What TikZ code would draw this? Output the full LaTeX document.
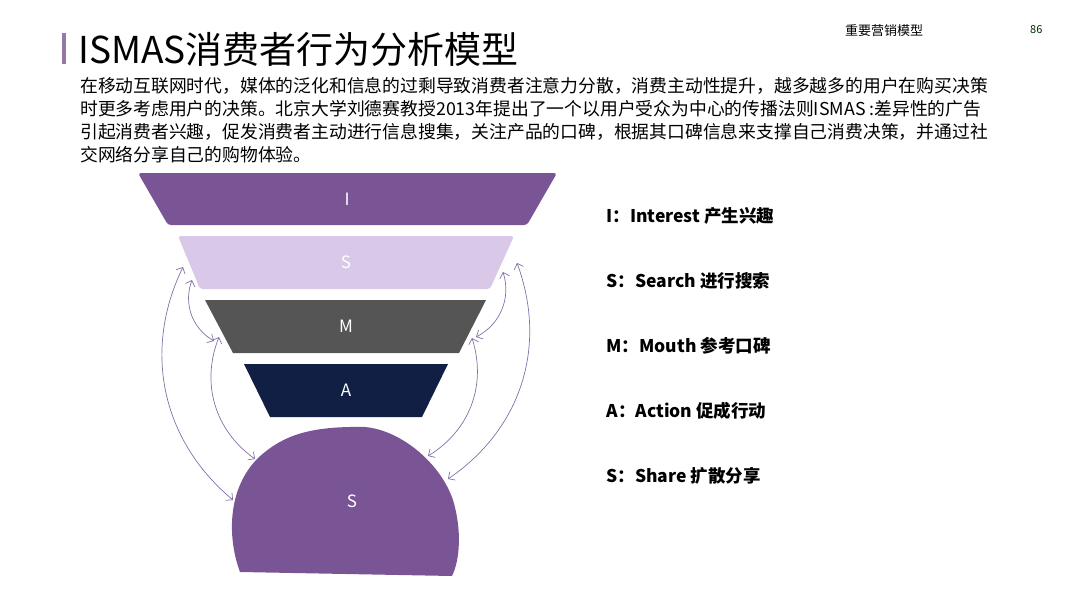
\documentclass[tikz,border=0pt]{standalone}
\usepackage{fontspec}
\setmainfont{Noto Sans CJK SC}
\newfontfamily\cjk{Noto Sans CJK SC}
\usetikzlibrary{arrows.meta}
\definecolor{pur}{HTML}{7A5595}
\definecolor{lpur}{HTML}{D9C8E8}
\definecolor{dgray}{HTML}{555555}
\definecolor{navy}{HTML}{111F45}
\definecolor{arr}{HTML}{8470A8}
\begin{document}
\begin{tikzpicture}[x=1pt,y=-1pt,
  lay/.style={text=white,font=\fontsize{17}{17}\selectfont},
  lab/.style={anchor=west,font=\fontsize{17.5}{18}\selectfont\bfseries},
  link/.style={draw=arr,line width=0.7pt,{Straight Barb[length=5pt]}-{Straight Barb[length=5pt]}}]
\useasboundingbox (0,0) rectangle (1080,608);
\fill[pur!80] (62,33) rectangle (66,64);
\node[anchor=west,inner sep=0,font=\fontsize{37}{37}\selectfont] (title) at (78,49) {ISMAS消费者行为分析模型};
\node[anchor=west,inner sep=0,font=\fontsize{13}{13}\selectfont] (hdr) at (845,31) {重要营销模型};
\node[anchor=west,inner sep=0,text=black!60!green!40!black,font=\fontsize{11}{11}\selectfont\itshape] (pg) at (1030,30) {86};
\node[anchor=north west,inner sep=0,align=left,font=\fontsize{17.8}{23}\selectfont] (body) at (80,77) {在移动互联网时代，媒体的泛化和信息的过剩导致消费者注意力分散，消费主动性提升，越多越多的用户在购买决策\\时更多考虑用户的决策。北京大学刘德赛教授2013年提出了一个以用户受众为中心的传播法则ISMAS :差异性的广告\\引起消费者兴趣，促发消费者主动进行信息搜集，关注产品的口碑，根据其口碑信息来支撑自己消费决策，并通过社\\交网络分享自己的购物体验。};
% funnel
\fill[pur,rounded corners=3pt] (138,173) -- (557,173) -- (527,225) -- (168,225) -- cycle;
\fill[lpur,rounded corners=3pt] (178,236) -- (514,236) -- (490,289) -- (200,289) -- cycle;
\fill[dgray] (205,300) -- (486,300) -- (459,353) -- (233,353) -- cycle;
\fill[navy] (244,364) -- (448,364) -- (422,417) -- (270,417) -- cycle;
\fill[pur] (240,572) .. controls (228,540) and (226,490) .. (258,458) .. controls (283,435) and (310,426) .. (365,427) .. controls (400,430) and (440,462) .. (453,500) .. controls (462,530) and (460,560) .. (452,576) -- cycle;
\node[lay] (nI) at (347,199) {I};
\node[lay] (nS) at (346,262) {S};
\node[lay] (nM) at (346,326) {M};
\node[lay] (nA) at (346,390) {A};
\node[lay] (nS2) at (352,501) {S};
\coordinate (l1a) at (183,267); \coordinate (l1b) at (233,500);
\coordinate (l2a) at (192,280); \coordinate (l2b) at (214,341);
\coordinate (l3a) at (219,337); \coordinate (l3b) at (255,459);
\coordinate (r1a) at (517,263); \coordinate (r1b) at (448,479);
\coordinate (r2a) at (503,272); \coordinate (r2b) at (476,337);
\coordinate (r3a) at (472,338); \coordinate (r3b) at (428,456);
\draw[link] (l1a) to[bend right=38] (l1b);
\draw[link] (l2a) to[bend right=40] (l2b);
\draw[link] (l3a) to[bend right=38] (l3b);
\draw[link] (r1a) to[bend left=38] (r1b);
\draw[link] (r2a) to[bend left=40] (r2b);
\draw[link] (r3a) to[bend left=38] (r3b);
\node[lab] (t1) at (603,216) {I：Interest 产生兴趣};
\node[lab] (t2) at (603,281) {S：Search 进行搜索};
\node[lab] (t3) at (603,346) {M：Mouth 参考口碑};
\node[lab] (t4) at (603,411) {A：Action 促成行动};
\node[lab] (t5) at (603,476) {S：Share 扩散分享};
\end{tikzpicture}
\end{document}
